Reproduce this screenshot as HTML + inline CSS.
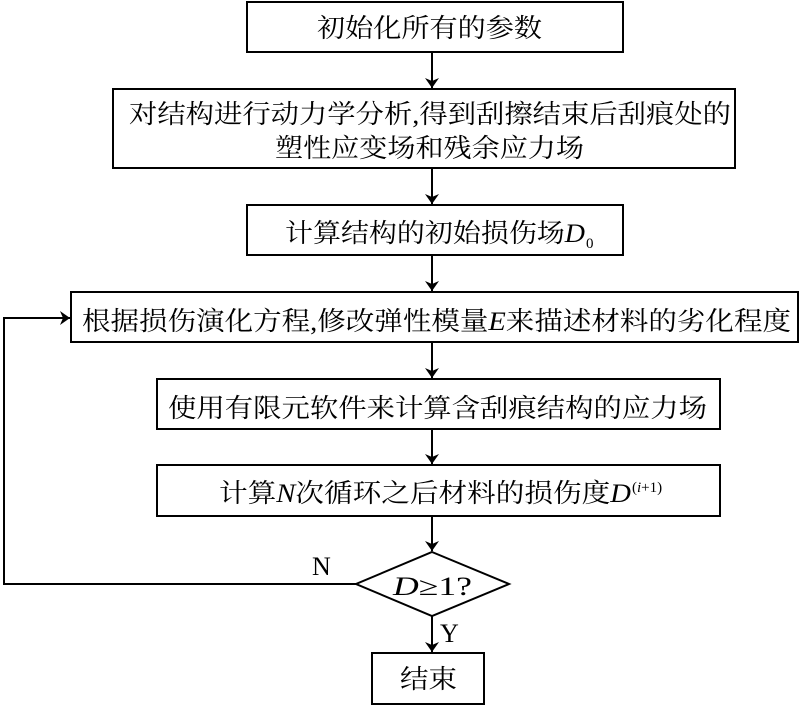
<!DOCTYPE html>
<html><head><meta charset="utf-8"><style>
html,body{margin:0;padding:0;background:#fff;}
svg{display:block;}
text{font-family:"Liberation Serif","Noto Serif CJK SC","Noto Sans CJK SC",serif;font-size:26px;fill:#000;}
</style></head><body>
<svg width="800" height="706" viewBox="0 0 800 706" xmlns="http://www.w3.org/2000/svg">
<defs><marker id="a" markerWidth="10" markerHeight="14" refX="10" refY="7" orient="auto" markerUnits="userSpaceOnUse"><path d="M0,0 L10,7 L0,14 L3,7 Z" fill="#000"/></marker></defs>
<g fill="none" stroke="#000" stroke-width="2">
<rect x="247" y="2" width="376" height="50"/>
<rect x="113" y="89" width="622" height="79"/>
<rect x="247" y="205" width="376" height="50"/>
<rect x="71" y="292" width="727" height="50"/>
<rect x="157" y="379" width="563" height="50"/>
<rect x="157" y="465" width="563" height="51"/>
<polygon points="432,552 509,584 432,616 356,584"/>
<rect x="372" y="653" width="112" height="51"/>
<line x1="432" y1="52" x2="432" y2="88" marker-end="url(#a)"/>
<line x1="432" y1="168" x2="432" y2="204" marker-end="url(#a)"/>
<line x1="432" y1="255" x2="432" y2="291" marker-end="url(#a)"/>
<line x1="432" y1="342" x2="432" y2="378" marker-end="url(#a)"/>
<line x1="432" y1="429" x2="432" y2="464" marker-end="url(#a)"/>
<line x1="432" y1="516" x2="432" y2="551" marker-end="url(#a)"/>
<line x1="432" y1="616" x2="432" y2="652" marker-end="url(#a)"/>
<polyline points="356,584 4,584 4,318 70,318" marker-end="url(#a)"/>
</g>
<text x="317" y="37" textLength="225" lengthAdjust="spacingAndGlyphs">初始化所有的参数</text>
<text x="129" y="123" textLength="602" lengthAdjust="spacingAndGlyphs">对结构进行动力学分析,得到刮擦结束后刮痕处的</text>
<text x="275" y="157" textLength="309" lengthAdjust="spacingAndGlyphs">塑性应变场和残余应力场</text>
<text x="285" y="242" textLength="300" lengthAdjust="spacingAndGlyphs">计算结构的初始损伤场<tspan font-style="italic">D</tspan></text>
<text x="586" y="248" style="font-size:15px">0</text>
<text x="82" y="330" textLength="709" lengthAdjust="spacingAndGlyphs">根据损伤演化方程,修改弹性模量<tspan font-style="italic">E</tspan>来描述材料的劣化程度</text>
<text x="168" y="417" textLength="539" lengthAdjust="spacingAndGlyphs">使用有限元软件来计算含刮痕结构的应力场</text>
<text x="219" y="502" textLength="412" lengthAdjust="spacingAndGlyphs">计算<tspan font-style="italic">N</tspan>次循环之后材料的损伤度<tspan font-style="italic">D</tspan></text>
<text x="632" y="492" style="font-size:15px">(<tspan font-style="italic">i</tspan>+1)</text>
<text x="393" y="595" textLength="79" lengthAdjust="spacingAndGlyphs"><tspan font-style="italic">D</tspan>≥1?</text>
<text x="400" y="688" textLength="57" lengthAdjust="spacingAndGlyphs">结束</text>
<text x="312" y="575">N</text>
<text x="440" y="642">Y</text>
</svg>
</body></html>
